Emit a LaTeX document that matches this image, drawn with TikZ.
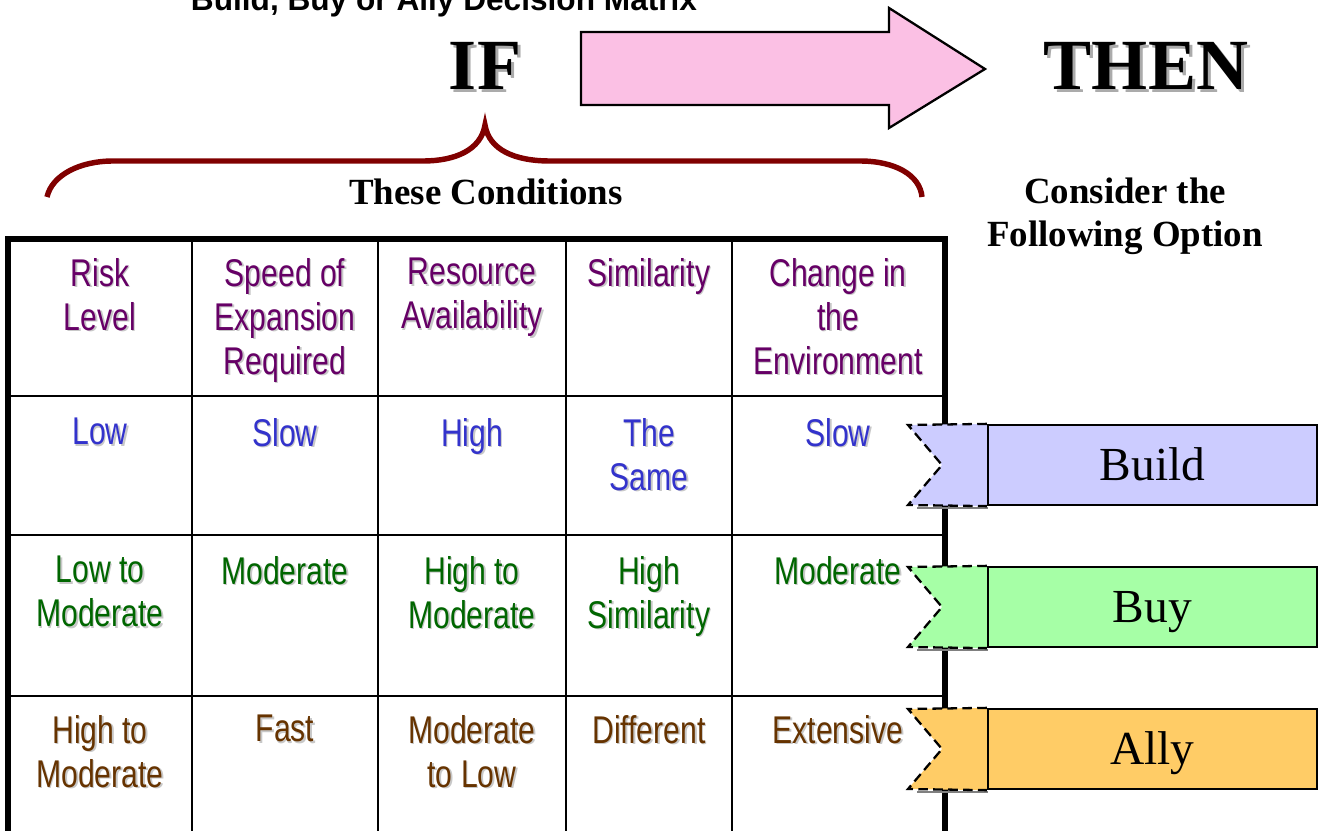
\documentclass[tikz,border=0pt]{standalone}
\usepackage{fontspec}
\setmainfont{Liberation Serif}
\newfontfamily\cellfont[FakeStretch=0.78]{Liberation Sans}
\newfontfamily\titlefont{Liberation Sans}

\definecolor{hdpurple}{RGB}{102,0,102}
\definecolor{lowblue}{RGB}{51,51,204}
\definecolor{midgreen}{RGB}{0,102,0}
\definecolor{highbrown}{RGB}{102,51,0}
\definecolor{txtshadow}{RGB}{200,200,200}
\definecolor{arrowpink}{RGB}{251,192,228}
\definecolor{bracered}{RGB}{128,0,0}
\definecolor{buildblue}{RGB}{204,204,255}
\definecolor{buygreen}{RGB}{166,255,166}
\definecolor{allyorange}{RGB}{255,204,102}

% one table entry, drawn twice for the grey drop shadow
\newcommand{\cellentry}[5]{%
  \node [celltext, text=txtshadow] (#1s) at (#2+1.6,#3+1.6) {#5};
  \node [celltext, text=#4] (#1) at (#2,#3) {#5};}

\begin{document}
\begin{tikzpicture}[x=0.02cm, y=-0.02cm,
  celltext/.style={
  % The anchor:
  anchor=north, inner sep=0pt,
  % The text:
  align=center, font=\cellfont\fontsize{22}{25}\selectfont},
  bigword/.style={inner sep=0pt, anchor=base,
      font=\bfseries\fontsize{41}{45}\selectfont},
  outer/.style={line width=3.4pt, line join=miter},
  inner/.style={line width=1.6pt},
  optbox/.style={
  % The shape:
  rectangle,
  % The size:
  minimum width=6.58cm, minimum height=1.6cm,
  % The border
  draw=black, line width=1.3pt,
      inner sep=0pt, text height=17.8pt, text depth=0pt,
      font=\fontsize{27}{30}\selectfont},
  tabedge/.style={draw=black, line width=1.3pt, dash pattern=on 5.5pt off 3pt}]

  \useasboundingbox (0,0) rectangle (1321,831);

  % title, cut off at the top
  \node [anchor=base, inner sep=0pt, font=\titlefont\bfseries\fontsize{18}{20}\selectfont]
      (title) at (444,11) {Build, Buy or Ally Decision Matrix};

  % IF ---> THEN
  \node [bigword, text=black!33] (ifs) at (488,93) {IF};
  \node [bigword] (if) at (485,90) {IF};
  \node [bigword, text=black!33] (thens) at (1149,93) {THEN};
  \node [bigword] (then) at (1146,90) {THEN};
  \draw [fill=arrowpink, line width=1.3pt, line join=miter]
      (581,32) -- (889,32) -- (889,8) -- (985,69) -- (889,128) -- (889,105) -- (581,105) -- cycle;

  % brace over the conditions
  \draw [bracered, line width=3.1pt]
      (47,197) .. controls (52,175) and (80,161) .. (113,161) -- (423,161)
      .. controls (455,161) and (481,150) .. (485,125)
      .. controls (489,150) and (515,161) .. (550,161) -- (860,161)
      .. controls (895,161) and (920,175) .. (922,197);

  \node [anchor=base, inner sep=0pt, font=\bfseries\fontsize{21}{24}\selectfont]
      (cond) at (486,205) {These Conditions};
  \node [anchor=base, inner sep=0pt, align=center, font=\bfseries\fontsize{21}{24}\selectfont]
      (consider) at (1125,246) {Consider the\\Following Option};

  % the matrix
  \draw [inner] (192,239) -- (192,840);
  \draw [inner] (378,239) -- (378,840);
  \draw [inner] (566,239) -- (566,840);
  \draw [inner] (732,239) -- (732,840);
  \draw [inner] (8,396) -- (945,396);
  \draw [inner] (8,535) -- (945,535);
  \draw [inner] (8,696) -- (945,696);
  \draw [outer] (8,840) -- (8,239) -- (945,239) -- (945,840);

  \cellentry{risk}{100}{258}{hdpurple}{Risk\\Level}
  \cellentry{speed}{285}{258}{hdpurple}{Speed of\\Expansion\\Required}
  \cellentry{res}{472}{258}{hdpurple}{Resource\\Availability}
  \cellentry{sim}{649}{258}{hdpurple}{Similarity}
  \cellentry{env}{838}{258}{hdpurple}{Change in\\the\\Environment}

  \cellentry{riskA}{100}{418}{lowblue}{Low}
  \cellentry{speedA}{285}{418}{lowblue}{Slow}
  \cellentry{resA}{472}{418}{lowblue}{High}
  \cellentry{simA}{649}{418}{lowblue}{The\\Same}
  \cellentry{envA}{838}{418}{lowblue}{Slow}

  \cellentry{riskB}{100}{556}{midgreen}{Low to\\Moderate}
  \cellentry{speedB}{285}{556}{midgreen}{Moderate}
  \cellentry{resB}{472}{556}{midgreen}{High to\\Moderate}
  \cellentry{simB}{649}{556}{midgreen}{High\\Similarity}
  \cellentry{envB}{838}{556}{midgreen}{Moderate}

  \cellentry{riskC}{100}{715}{highbrown}{High to\\Moderate}
  \cellentry{speedC}{285}{715}{highbrown}{Fast}
  \cellentry{resC}{472}{715}{highbrown}{Moderate\\to Low}
  \cellentry{simC}{649}{715}{highbrown}{Different}
  \cellentry{envC}{838}{715}{highbrown}{Extensive}

  % the options
  \node [optbox, fill=buildblue] (build) at (1152.5,465) {Build};
  \draw [gray, line width=1.6pt] (917,508) -- (988,508);
  \fill [buildblue] (build.north west) -- (908,425) -- (942,465) -- (908,505) -- (build.south west) -- cycle;
  \draw [tabedge] (build.north west) -- (908,425) -- (942,465) -- (908,505) -- (build.south west);

  \node [optbox, fill=buygreen] (buy) at (1152.5,607) {Buy};
  \draw [gray, line width=1.6pt] (917,650) -- (988,650);
  \fill [buygreen] (buy.north west) -- (908,567) -- (942,607) -- (908,647) -- (buy.south west) -- cycle;
  \draw [tabedge] (buy.north west) -- (908,567) -- (942,607) -- (908,647) -- (buy.south west);

  \node [optbox, fill=allyorange] (ally) at (1152.5,749) {Ally};
  \draw [gray, line width=1.6pt] (917,792) -- (988,792);
  \fill [allyorange] (ally.north west) -- (908,709) -- (942,749) -- (908,789) -- (ally.south west) -- cycle;
  \draw [tabedge] (ally.north west) -- (908,709) -- (942,749) -- (908,789) -- (ally.south west);

\end{tikzpicture}
\end{document}
